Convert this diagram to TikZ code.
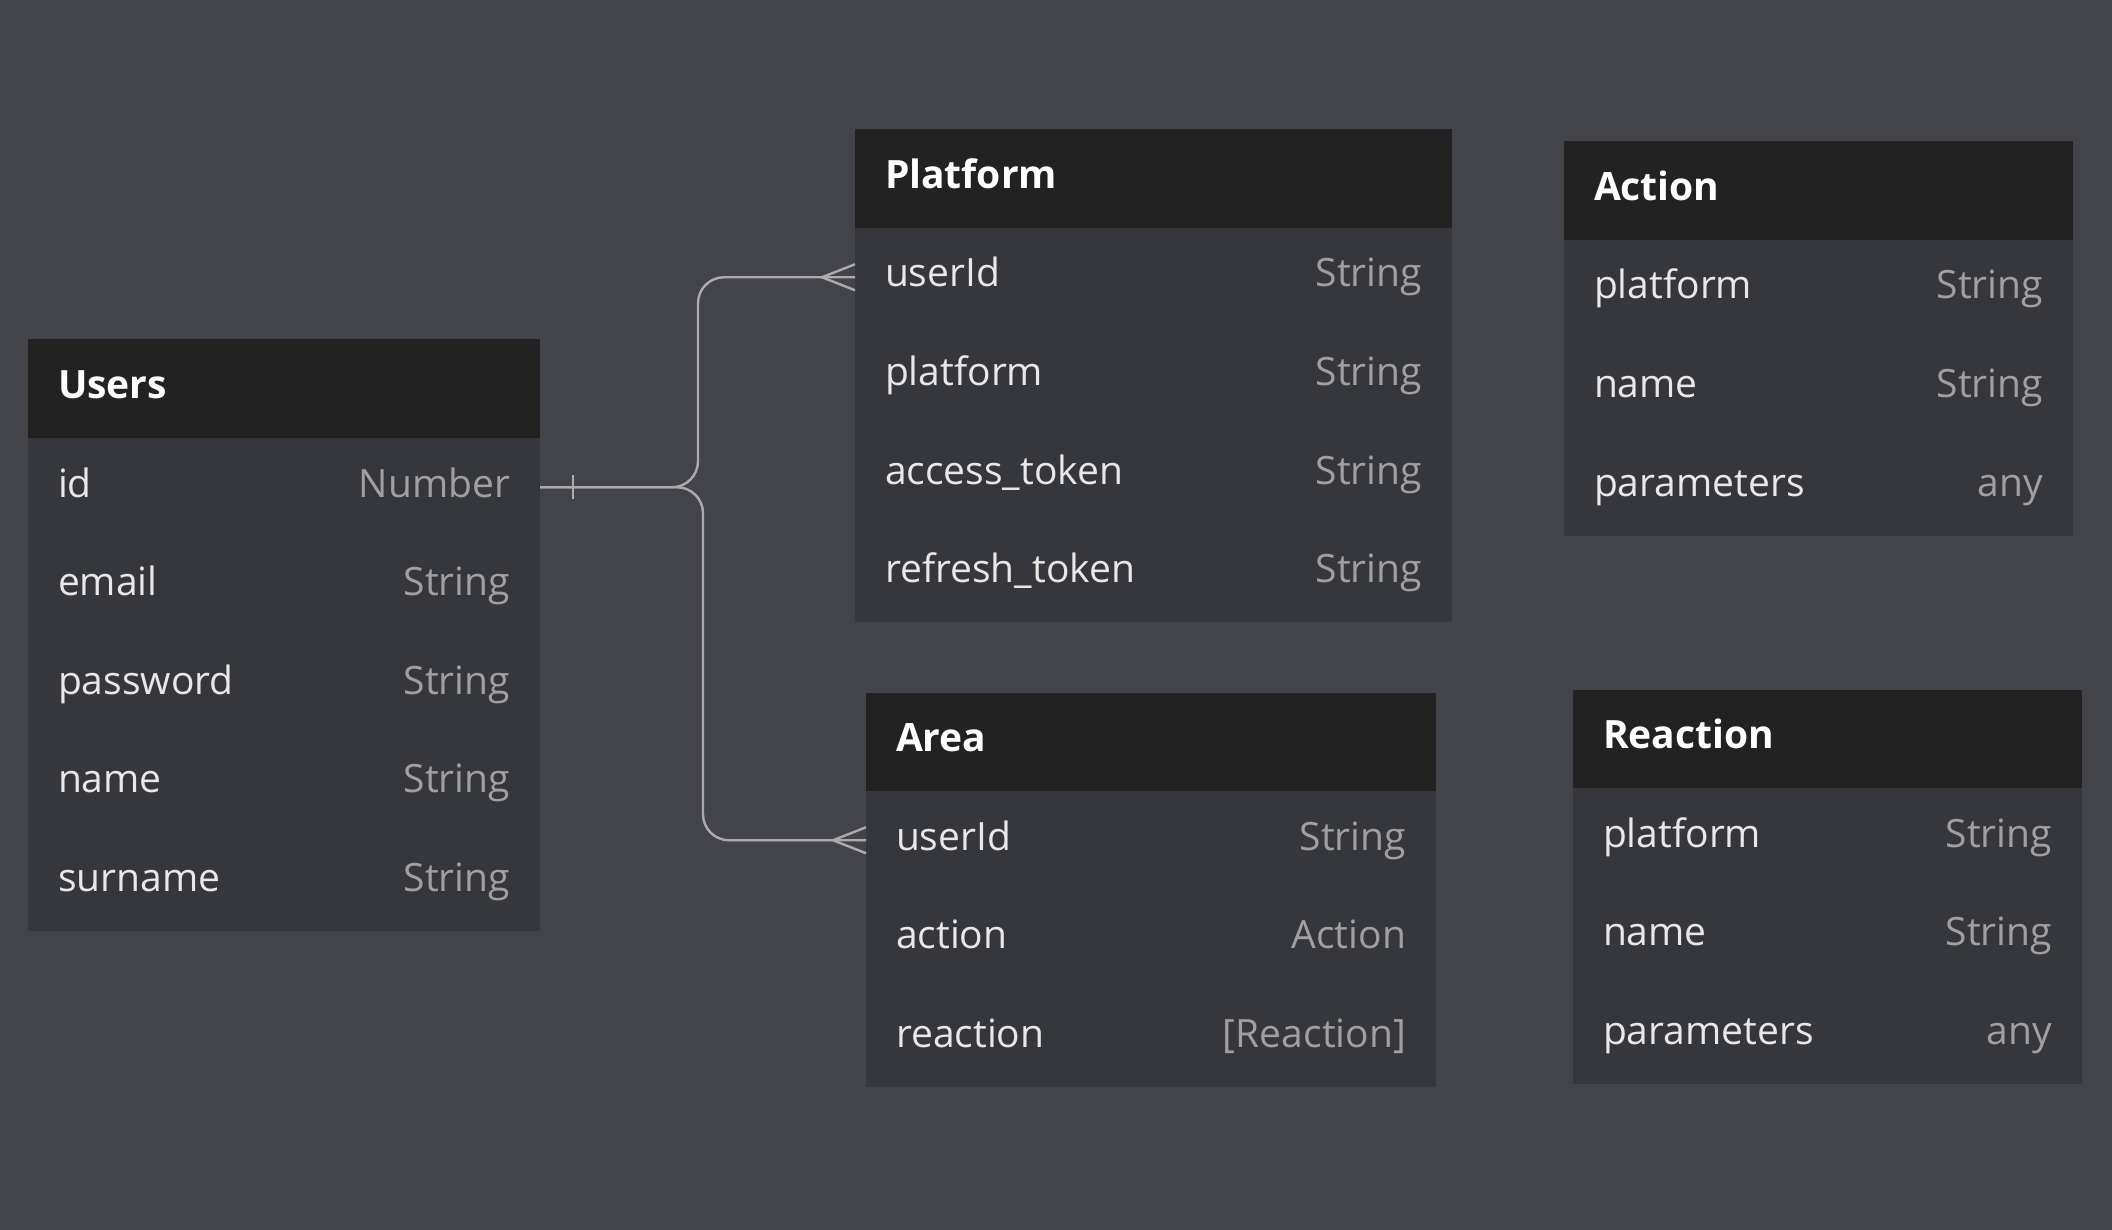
\documentclass[tikz,border=0pt]{standalone}
\usepackage{fontspec}
\setmainfont{Open Sans}
\definecolor{bgc}{RGB}{67,68,73}
\definecolor{bodyc}{RGB}{54,55,60}
\definecolor{hdrc}{RGB}{34,34,34}
\definecolor{fieldc}{RGB}{232,232,232}
\definecolor{typec}{RGB}{160,160,160}
\definecolor{linec}{RGB}{170,170,175}
\newcommand\erfield[2]{\hbox to \hsize{\textcolor{fieldc}{#1}\hfill\textcolor{typec}{#2}}}
\begin{document}
\begin{tikzpicture}[x=1pt,y=-1pt,
 base/.style={anchor=north west, outer sep=0pt, inner xsep=30pt, inner ysep=0pt, minimum height=98.5pt, text height=30pt, text depth=10.5pt},
 hdr/.style={base, fill=hdrc, text=white, font=\fontsize{39}{46}\selectfont\bfseries, text width=#1},
 fieldrow/.style={base, fill=bodyc, font=\fontsize{39}{46}\selectfont, text width=#1},
 conn/.style={draw=linec, line width=2.4pt}]
\path[use as bounding box, fill=bgc] (0,0) rectangle (2112,1230);

% Users
\node[hdr=452pt] (u) at (28,339.5) {Users};
\node[fieldrow=452pt] (u-id) at (u.south west) {\erfield{id}{Number}};
\node[fieldrow=452pt] (u-email) at (u-id.south west) {\erfield{email}{String}};
\node[fieldrow=452pt] (u-pw) at (u-email.south west) {\erfield{password}{String}};
\node[fieldrow=452pt] (u-name) at (u-pw.south west) {\erfield{name}{String}};
\node[fieldrow=452pt] (u-sur) at (u-name.south west) {\erfield{surname}{String}};

% Platform
\node[hdr=537pt] (p) at (855,129.5) {Platform};
\node[fieldrow=537pt] (p-uid) at (p.south west) {\erfield{userId}{String}};
\node[fieldrow=537pt] (p-plat) at (p-uid.south west) {\erfield{platform}{String}};
\node[fieldrow=537pt] (p-acc) at (p-plat.south west) {\erfield{access\_token}{String}};
\node[fieldrow=537pt] (p-ref) at (p-acc.south west) {\erfield{refresh\_token}{String}};

% Action
\node[hdr=449pt] (ac) at (1564,141.5) {Action};
\node[fieldrow=449pt] (ac-plat) at (ac.south west) {\erfield{platform}{String}};
\node[fieldrow=449pt] (ac-name) at (ac-plat.south west) {\erfield{name}{String}};
\node[fieldrow=449pt] (ac-par) at (ac-name.south west) {\erfield{parameters}{any}};

% Area
\node[hdr=510pt] (a) at (866,692.5) {Area};
\node[fieldrow=510pt] (a-uid) at (a.south west) {\erfield{userId}{String}};
\node[fieldrow=510pt] (a-act) at (a-uid.south west) {\erfield{action}{Action}};
\node[fieldrow=510pt] (a-rea) at (a-act.south west) {\erfield{reaction}{[Reaction]}};

% Reaction
\node[hdr=449pt] (r) at (1573,689.5) {Reaction};
\node[fieldrow=449pt] (r-plat) at (r.south west) {\erfield{platform}{String}};
\node[fieldrow=449pt] (r-name) at (r-plat.south west) {\erfield{name}{String}};
\node[fieldrow=449pt] (r-par) at (r-name.south west) {\erfield{parameters}{any}};

% connectors
\coordinate (j1) at (698,400);
\coordinate (j2) at (703,700);
\draw[conn, rounded corners=26pt] (u-id.east) -| (j1) |- (p-uid.west);
\draw[conn, rounded corners=26pt] (u-id.east) -| (j2) |- (a-uid.west);
\draw[conn] ([xshift=33pt,yshift=-12pt]u-id.east) -- ([xshift=33pt,yshift=12pt]u-id.east);
\draw[conn] ([yshift=13pt]p-uid.west) -- ([xshift=-33pt]p-uid.west) -- ([yshift=-13pt]p-uid.west);
\draw[conn] ([yshift=13pt]a-uid.west) -- ([xshift=-33pt]a-uid.west) -- ([yshift=-13pt]a-uid.west);
\end{tikzpicture}
\end{document}
